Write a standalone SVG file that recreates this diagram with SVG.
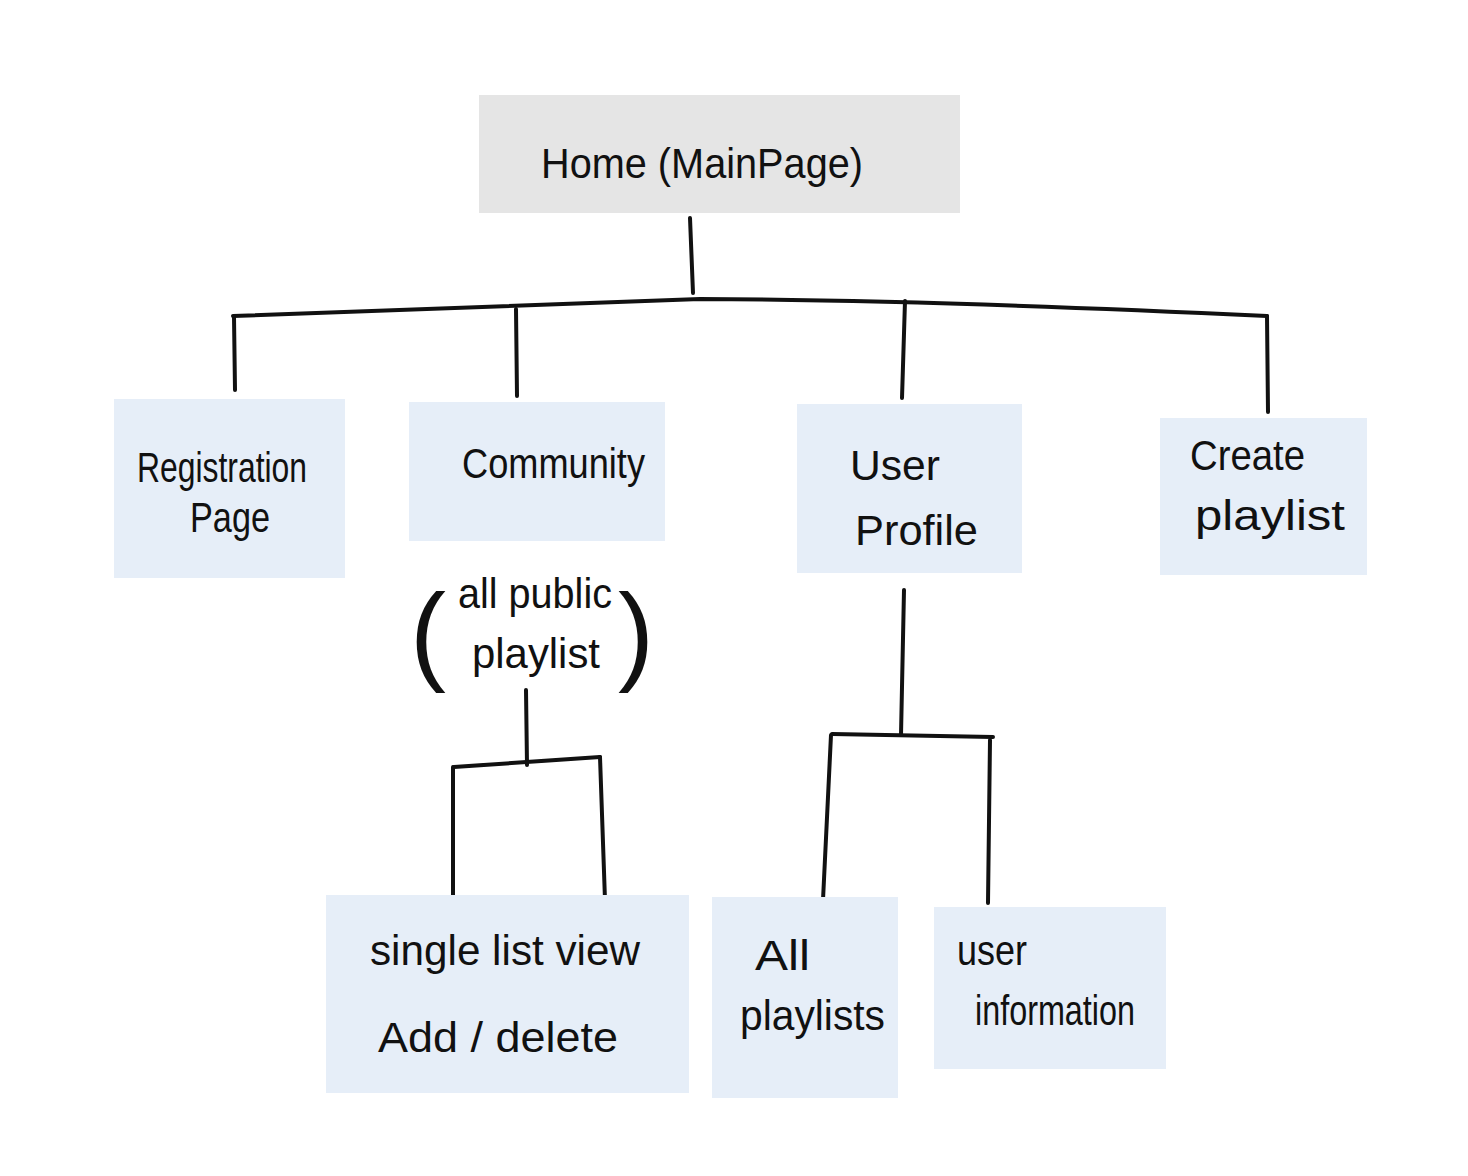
<svg xmlns="http://www.w3.org/2000/svg" width="1468" height="1176" viewBox="0 0 1468 1176">
<style>
.box{fill:#e6eef8}
.home{fill:#e5e5e5}
.t{font-family:"Liberation Sans","DejaVu Sans",sans-serif;font-size:42px;fill:#111}
.c{fill:none;stroke:#111;stroke-width:4;stroke-linecap:round;stroke-linejoin:round}
</style>
<rect width="1468" height="1176" fill="#ffffff"/>
<g id="connectors">
<path class="c" d="M690,218 L693,293"/>
<path class="c" d="M233,316 C400,310 560,303 700,299 C900,300 1100,308 1267,316"/>
<path class="c" d="M234,317 L235,390"/>
<path class="c" d="M516,309 L517,396"/>
<path class="c" d="M905,301 L902,398"/>
<path class="c" d="M1267,316 L1268,412"/>
<path class="c" d="M904,590 L901,735"/>
<path class="c" d="M832,734 L993,737"/>
<path class="c" d="M831,735 L823,900"/>
<path class="c" d="M990,740 L988,903"/>
<path class="c" d="M526,690 L527,765"/>
<path class="c" d="M454,767 L600,757"/>
<path class="c" d="M453,767 L453,900"/>
<path class="c" d="M600,757 L605,900"/>
</g>
<g id="home">
<rect class="home" x="479" y="95" width="481" height="118"/>
<text class="t" x="541" y="178" textLength="322" lengthAdjust="spacingAndGlyphs">Home (MainPage)</text>
</g>
<g id="registration">
<rect class="box" x="114" y="399" width="231" height="179"/>
<text class="t" x="137" y="482" textLength="170" lengthAdjust="spacingAndGlyphs">Registration</text>
<text class="t" x="190" y="532" textLength="80" lengthAdjust="spacingAndGlyphs">Page</text>
</g>
<g id="community">
<rect class="box" x="409" y="402" width="256" height="139"/>
<text class="t" x="462" y="478" textLength="183" lengthAdjust="spacingAndGlyphs">Community</text>
</g>
<g id="public-note">
<text class="t" x="410" y="670" style="font-size:110px;font-weight:300" textLength="36" lengthAdjust="spacingAndGlyphs">(</text>
<text class="t" x="618" y="670" style="font-size:110px;font-weight:300" textLength="36" lengthAdjust="spacingAndGlyphs">)</text>
<text class="t" x="458" y="608" textLength="154" lengthAdjust="spacingAndGlyphs">all public</text>
<text class="t" x="472" y="668" textLength="128" lengthAdjust="spacingAndGlyphs">playlist</text>
</g>
<g id="user-profile">
<rect class="box" x="797" y="404" width="225" height="169"/>
<text class="t" x="850" y="480" textLength="90" lengthAdjust="spacingAndGlyphs">User</text>
<text class="t" x="855" y="545" textLength="123" lengthAdjust="spacingAndGlyphs">Profile</text>
</g>
<g id="create-playlist">
<rect class="box" x="1160" y="418" width="207" height="157"/>
<text class="t" x="1190" y="470" textLength="115" lengthAdjust="spacingAndGlyphs">Create</text>
<text class="t" x="1195" y="530" textLength="150" lengthAdjust="spacingAndGlyphs">playlist</text>
</g>
<g id="single-list">
<rect class="box" x="326" y="895" width="363" height="198"/>
<text class="t" x="370" y="965" textLength="270" lengthAdjust="spacingAndGlyphs">single list view</text>
<text class="t" x="378" y="1052" textLength="240" lengthAdjust="spacingAndGlyphs">Add / delete</text>
</g>
<g id="all-playlists">
<rect class="box" x="712" y="897" width="186" height="201"/>
<text class="t" x="755" y="970" textLength="55" lengthAdjust="spacingAndGlyphs">All</text>
<text class="t" x="740" y="1030" textLength="145" lengthAdjust="spacingAndGlyphs">playlists</text>
</g>
<g id="user-information">
<rect class="box" x="934" y="907" width="232" height="162"/>
<text class="t" x="957" y="965" textLength="70" lengthAdjust="spacingAndGlyphs">user</text>
<text class="t" x="975" y="1025" textLength="160" lengthAdjust="spacingAndGlyphs">information</text>
</g>
</svg>
